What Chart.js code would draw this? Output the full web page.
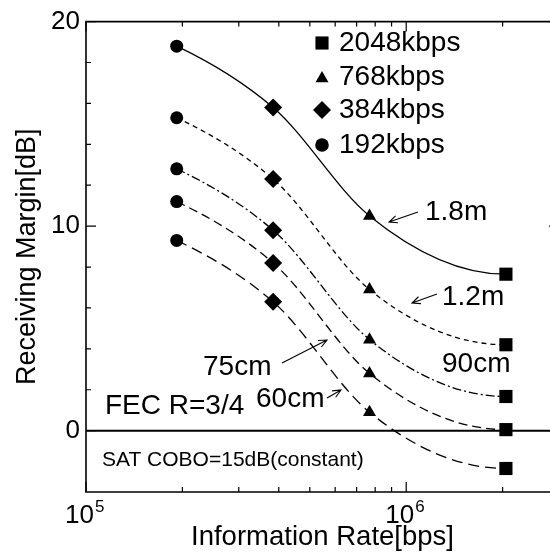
<!DOCTYPE html>
<html><head><meta charset="utf-8">
<script src="https://cdn.jsdelivr.net/npm/chart.js@4/dist/chart.umd.min.js"></script>
<style>
html,body{margin:0;padding:0;background:#fff;overflow:hidden;width:550px;height:558px}
#wrap{position:relative;width:561px;height:558px}
canvas{display:block}
</style>
</head><body><div id="wrap"><canvas id="c" width="561" height="558"></canvas></div>
<script>
// ---- data ----
const rates = [192000, 384000, 768000, 2048000];           // bps
const legendLabels = ['2048kbps', '768kbps', '384kbps', '192kbps'];
const antennaLabels = ['1.8m', '1.2m', '90cm', '75cm', '60cm'];
const margin18m = [18.8, 15.8, 10.5, 7.65];
const margin12m = [15.3, 12.3, 6.9, 4.2];
const margin90cm = [12.8, 9.8, 4.45, 1.67];
const margin75cm = [11.2, 8.2, 2.8, 0.05];
const margin60cm = [9.3, 6.3, 0.9, -1.85];
const yTickLabels = [0, 10, 20];
const xTickLabels = [[1e5, '10', '5'], [1e6, '10', '6']];

const FONT = "'Liberation Sans', Arial, Helvetica, sans-serif";
const pointStyles = ['circle', 'rectRot', 'triangle', 'rect'];
const pointRadii = [6.5, 9, 7.5, 9.3];

function series(label, vals, dash) {
  return {
    label: label,
    data: rates.map((r, i) => ({ x: r, y: vals[i] })),
    borderColor: '#000',
    backgroundColor: '#000',
    borderWidth: 1.3,
    borderDash: dash,
    pointStyle: pointStyles,
    pointRadius: pointRadii,
    pointBorderWidth: 0,
    pointBackgroundColor: '#000',
    cubicInterpolationMode: 'monotone',
    fill: false,
    clip: false
  };
}

function arrow(ctx, x1, y1, x2, y2) {
  const a = Math.atan2(y2 - y1, x2 - x1);
  const L = 9, w = 0.42;
  ctx.beginPath();
  ctx.moveTo(x1, y1); ctx.lineTo(x2, y2);
  ctx.moveTo(x2 - L * Math.cos(a - w), y2 - L * Math.sin(a - w));
  ctx.lineTo(x2, y2);
  ctx.lineTo(x2 - L * Math.cos(a + w), y2 - L * Math.sin(a + w));
  ctx.stroke();
}

function marker(ctx, style, x, y, r) {
  ctx.beginPath();
  if (style === 'circle') {
    ctx.arc(x, y, r, 0, Math.PI * 2);
  } else if (style === 'rect') {
    const s = r * Math.SQRT1_2;
    ctx.rect(x - s, y - s, 2 * s, 2 * s);
  } else if (style === 'rectRot') {
    ctx.moveTo(x, y - r); ctx.lineTo(x + r, y); ctx.lineTo(x, y + r); ctx.lineTo(x - r, y); ctx.closePath();
  } else if (style === 'triangle') {
    ctx.moveTo(x, y - r);
    ctx.lineTo(x + r * 0.866, y + r / 2);
    ctx.lineTo(x - r * 0.866, y + r / 2);
    ctx.closePath();
  }
  ctx.fill();
}

// Smooth the library's bezier curve: gentle start, flat finish (as in the figure)
const smoothEnds = {
  id: 'smoothEnds',
  beforeDatasetDraw(chart, args) {
    const meta = args.meta;
    const line = meta.dataset;
    if (!line || !line.updateControlPoints) return;
    line.updateControlPoints(chart.chartArea, 'x');
    const p = meta.data;
    const n = p.length;
    if (n < 3) return;
    const d = [];
    for (let i = 0; i < n - 1; i++) d.push((p[i + 1].y - p[i].y) / (p[i + 1].x - p[i].x));
    const m = [];
    m[0] = d[0] * 0.75;
    for (let i = 1; i < n - 1; i++) m[i] = 0.55 * d[i - 1] + 0.45 * d[i];
    m[n - 1] = 0;
    for (let i = 0; i < n; i++) {
      if (i > 0) {
        const dx = (p[i].x - p[i - 1].x) / 3;
        p[i].cp1x = p[i].x - dx; p[i].cp1y = p[i].y - m[i] * dx;
      }
      if (i < n - 1) {
        const dx = (p[i + 1].x - p[i].x) / 3;
        p[i].cp2x = p[i].x + dx; p[i].cp2y = p[i].y + m[i] * dx;
      }
    }
  }
};

const deco = {
  id: 'deco',
  afterDatasetsDraw(chart) {
    const ctx = chart.ctx;
    const { left, right, top, bottom } = chart.chartArea;
    const xs = chart.scales.x, ys = chart.scales.y;
    ctx.save();
    ctx.strokeStyle = '#000';
    ctx.fillStyle = '#000';
    ctx.setLineDash([]);
    // frame
    ctx.lineWidth = 1.6;
    ctx.beginPath();
    ctx.moveTo(right, top); ctx.lineTo(left, top); ctx.lineTo(left, bottom); ctx.lineTo(right, bottom); ctx.lineTo(right, top);
    ctx.stroke();
    // zero line
    const y0 = ys.getPixelForValue(0);
    ctx.lineWidth = 2;
    ctx.beginPath(); ctx.moveTo(left, y0); ctx.lineTo(right, y0); ctx.stroke();
    // y ticks (inward), longer at labelled values
    ctx.lineWidth = 1.2;
    ys.ticks.forEach(t => {
      if (Math.abs(t.value % 2) > 1e-9) return;
      const py = ys.getPixelForValue(t.value);
      const len = Math.abs(t.value % 10) < 1e-9 ? 10 : 5;
      ctx.beginPath();
      ctx.moveTo(left, py); ctx.lineTo(left + len, py);
      ctx.moveTo(right, py); ctx.lineTo(right - len, py);
      ctx.stroke();
    });
    // x ticks (inward)
    xs.ticks.forEach(t => {
      const v = t.value;
      const e = Math.floor(Math.log10(v) + 1e-9);
      const mm = v / Math.pow(10, e);
      if (Math.abs(mm - Math.round(mm)) > 1e-6) return;
      const px = xs.getPixelForValue(v);
      const len = Math.round(mm) === 1 ? 10 : 5;
      ctx.beginPath();
      ctx.moveTo(px, bottom); ctx.lineTo(px, bottom - len);
      ctx.moveTo(px, top); ctx.lineTo(px, top + len);
      ctx.stroke();
    });
    // x tick labels with superscript
    ctx.textBaseline = 'alphabetic';
    xTickLabels.forEach(([v, base, sup]) => {
      const px = xs.getPixelForValue(v);
      ctx.font = '26px ' + FONT;
      ctx.textAlign = 'right';
      ctx.fillText(base, px + 8, 523);
      ctx.font = '17px ' + FONT;
      ctx.textAlign = 'left';
      ctx.fillText(sup, px + 9, 512);
    });
    // legend
    ctx.font = '28px ' + FONT;
    ctx.textAlign = 'left';
    ctx.textBaseline = 'middle';
    const legStyles = ['rect', 'triangle', 'rectRot', 'circle'];
    const legR = [9.3, 7.5, 9, 6.8];
    const legY = [43, 77, 110, 145];
    legendLabels.forEach((lab, i) => {
      const my = legStyles[i] === 'triangle' ? legY[i] + 1.5 : legY[i];
      marker(ctx, legStyles[i], 322, my, legR[i]);
      ctx.fillText(lab, 339, legY[i]);
    });
    // annotations
    ctx.font = '28px ' + FONT;
    ctx.fillText(antennaLabels[0], 425, 212);
    ctx.fillText(antennaLabels[1], 442, 297);
    ctx.fillText(antennaLabels[2], 442, 364);
    ctx.fillText(antennaLabels[3], 203, 367);
    ctx.fillText(antennaLabels[4], 256, 399);
    ctx.fillText('FEC R=3/4', 105, 406);
    ctx.font = '21px ' + FONT;
    ctx.fillText('SAT COBO=15dB(constant)', 102, 460);
    ctx.lineWidth = 1.1;
    arrow(ctx, 418, 212, 389, 222);
    arrow(ctx, 437, 294, 412, 303);
    arrow(ctx, 282, 363, 327, 340);
    arrow(ctx, 327, 398, 341, 390);
    ctx.restore();
  }
};

new Chart(document.getElementById('c'), {
  type: 'line',
  data: {
    datasets: [
      series(antennaLabels[0], margin18m, []),
      series(antennaLabels[1], margin12m, [5, 4]),
      series(antennaLabels[2], margin90cm, [9, 3, 2, 3]),
      series(antennaLabels[3], margin75cm, [9, 5]),
      series(antennaLabels[4], margin60cm, [11, 6])
    ]
  },
  options: {
    responsive: false,
    devicePixelRatio: 1,
    animation: false,
    events: [],
    layout: { autoPadding: false, padding: { top: 18, right: 2, left: 0, bottom: 0 } },
    plugins: { legend: { display: false }, tooltip: { enabled: false } },
    scales: {
      x: {
        type: 'logarithmic',
        min: 1e5,
        max: 3e6,
        grid: { display: false, drawTicks: false },
        border: { display: false },
        ticks: { display: false },
        title: { display: true, text: 'Information Rate[bps]', color: '#000',
                 font: { family: FONT, size: 27.5 }, padding: { top: 0, bottom: 4 } },
        afterFit: s => { s.height = 66; }
      },
      y: {
        type: 'linear',
        min: -3,
        max: 20,
        grid: { display: false, drawTicks: false },
        border: { display: false },
        ticks: {
          stepSize: 2,
          color: '#000',
          padding: 6,
          font: { family: FONT, size: 26 },
          callback: v => (yTickLabels.includes(v) ? String(v) : '')
        },
        title: { display: true, text: 'Receiving Margin[dB]', color: '#000',
                 font: { family: FONT, size: 27 }, padding: { top: 11, bottom: 0 } },
        afterFit: s => { s.width = 86; }
      }
    }
  },
  plugins: [smoothEnds, deco]
});
</script>
</body></html>
